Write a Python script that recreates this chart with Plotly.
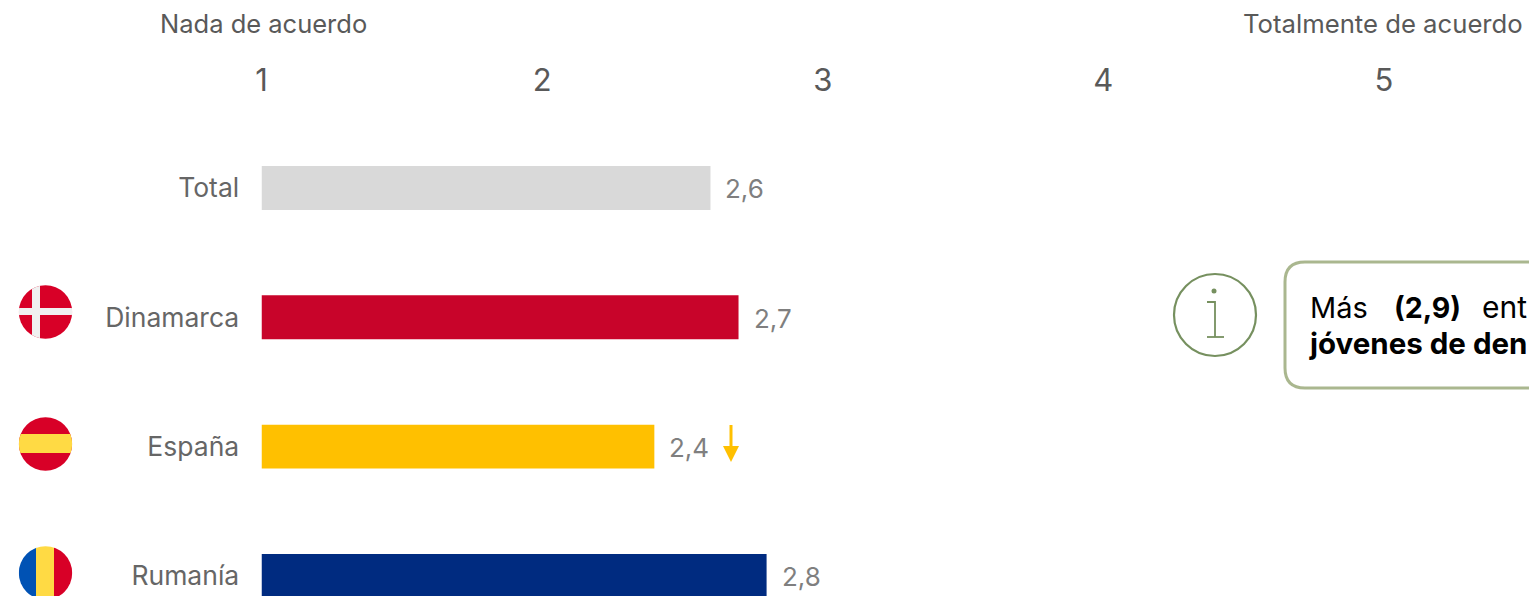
import base64
import plotly.graph_objects as go

W, H = 1529, 596
FONT = "Inter"

categories = ["Total", "Dinamarca", "España", "Rumanía"]
values = [2.6, 2.7, 2.4, 2.8]
value_labels = ["2,6", "2,7", "2,4", "2,8"]
bar_colors = ["#D9D9D9", "#C8042A", "#FFC000", "#002B80"]
tick_values = [1, 2, 3, 4, 5]
tick_labels = ["1", "2", "3", "4", "5"]

def px(x):
    return x / W

def py(y):
    return 1 - y / H

def flag(body):
    svg = ('<svg xmlns="http://www.w3.org/2000/svg" width="108" height="108" viewBox="0 0 54 54">'
           '<defs><clipPath id="c"><circle cx="27" cy="27" r="26.7"/></clipPath></defs>'
           f'<g clip-path="url(#c)">{body}</g></svg>')
    return "data:image/svg+xml;base64," + base64.b64encode(svg.encode()).decode()

flag_dk = flag('<rect width="54" height="54" fill="#D80027"/>'
               '<rect x="13.5" width="8" height="54" fill="#F0F0F0"/>'
               '<rect y="23" width="54" height="7" fill="#F0F0F0"/>')
flag_es = flag('<rect width="54" height="54" fill="#D80027"/>'
               '<rect y="17" width="54" height="19" fill="#FFDA44"/>')
flag_ro = flag('<rect width="18" height="54" fill="#0052B4"/>'
               '<rect x="17.5" width="18.5" height="54" fill="#FFDA44"/>'
               '<rect x="35.5" width="19" height="54" fill="#D80027"/>')

fig = go.Figure(go.Bar(
    y=categories, x=[v - 1 for v in values], base=1, orientation="h",
    marker=dict(color=bar_colors, line_width=0), width=0.34,
    hoverinfo="skip",
))

annotations = []
for c, v, t in zip(categories, values, value_labels):
    annotations.append(dict(x=v, y=c, xref="x", yref="y", text=t, showarrow=False,
                            xanchor="left", xshift=13, yshift=-1,
                            font=dict(family=FONT, size=26, color="#7F7F7F")))

def note(x, y, text, size, color, anchor="left", bold=False):
    annotations.append(dict(x=px(x), y=py(y), xref="paper", yref="paper", showarrow=False,
                            text=f"<b>{text}</b>" if bold else text,
                            xanchor=anchor, yanchor="middle",
                            font=dict(family=FONT, size=size, color=color)))

note(158, 24, "Nada de acuerdo", 25.5, "#595959")
note(1241, 24, "Totalmente de acuerdo", 25.7, "#595959")
note(1308, 307, "Más", 29, "#000000")
note(1392, 307, "(2,9)", 28.5, "#000000", bold=True)
note(1480, 307, "ent", 30, "#000000")
note(1307, 343, "jóvenes de den", 29.5, "#000000", bold=True)

GREEN = "#76905F"
BOX = "#AAB78F"
ARROW = "#FFC000"

def path(d, **kw):
    return dict(type="path", path=d, xref="paper", yref="paper", **kw)

def P(x, y):
    return f"{px(x)},{py(y)}"

shapes = [
    dict(type="circle", xref="paper", yref="paper", x0=px(1174), x1=px(1256), y0=py(356), y1=py(274),
         line=dict(color=GREEN, width=2.2), fillcolor="rgba(0,0,0,0)"),
    dict(type="circle", xref="paper", yref="paper", x0=px(1211.5), x1=px(1216.5), y0=py(293.5), y1=py(288.5),
         line_width=0, fillcolor=GREEN),
    path(f"M{P(1207, 302)} L{P(1215, 302)} L{P(1215, 337)}", line=dict(color=GREEN, width=1.8)),
    path(f"M{P(1207, 337)} L{P(1224, 337)}", line=dict(color=GREEN, width=1.8)),
    path(f"M{P(1560, 262)} L{P(1305, 262)} Q{P(1285, 262)} {P(1285, 282)} L{P(1285, 368)} "
         f"Q{P(1285, 388)} {P(1305, 388)} L{P(1560, 388)}", line=dict(color=BOX, width=3)),
    path(f"M{P(731, 425)} L{P(731, 450)}", line=dict(color=ARROW, width=3)),
    path(f"M{P(723, 446)} L{P(739, 446)} L{P(731, 462)} Z", line_width=0, fillcolor=ARROW),
]

images = [
    dict(source=s, xref="paper", yref="paper", x=px(18.5), y=py(cy - 27), sizex=54 / W, sizey=54 / H,
         xanchor="left", yanchor="top", sizing="stretch", layer="above")
    for s, cy in [(flag_dk, 312), (flag_es, 444), (flag_ro, 573)]
]

fig.update_layout(
    width=W, height=H, margin=dict(l=0, r=0, t=0, b=0),
    paper_bgcolor="white", plot_bgcolor="white", showlegend=False,
    annotations=annotations, shapes=shapes, images=images,
    xaxis=dict(domain=[261.5 / W, 1], range=[1, 5.517], side="top", anchor="y",
               tickmode="array", tickvals=tick_values, ticktext=tick_labels,
               tickfont=dict(family=FONT, size=31, color="#595959"),
               ticks="outside", ticklen=6, tickcolor="rgba(0,0,0,0)",
               showgrid=False, zeroline=False, showline=False, automargin=False),
    yaxis=dict(domain=[0, 1 - 110 / H], range=[3.155, -0.603], type="category",
               categoryorder="array", categoryarray=categories, anchor="x",
               tickfont=dict(family=FONT, size=26.5, color="#666666"),
               ticks="outside", ticklen=16, tickcolor="rgba(0,0,0,0)",
               showgrid=False, zeroline=False, showline=False, automargin=False),
)

fig.write_html("out.html", config=dict(displayModeBar=False),
               post_script="document.body.style.margin='0';document.body.style.overflow='hidden';")
